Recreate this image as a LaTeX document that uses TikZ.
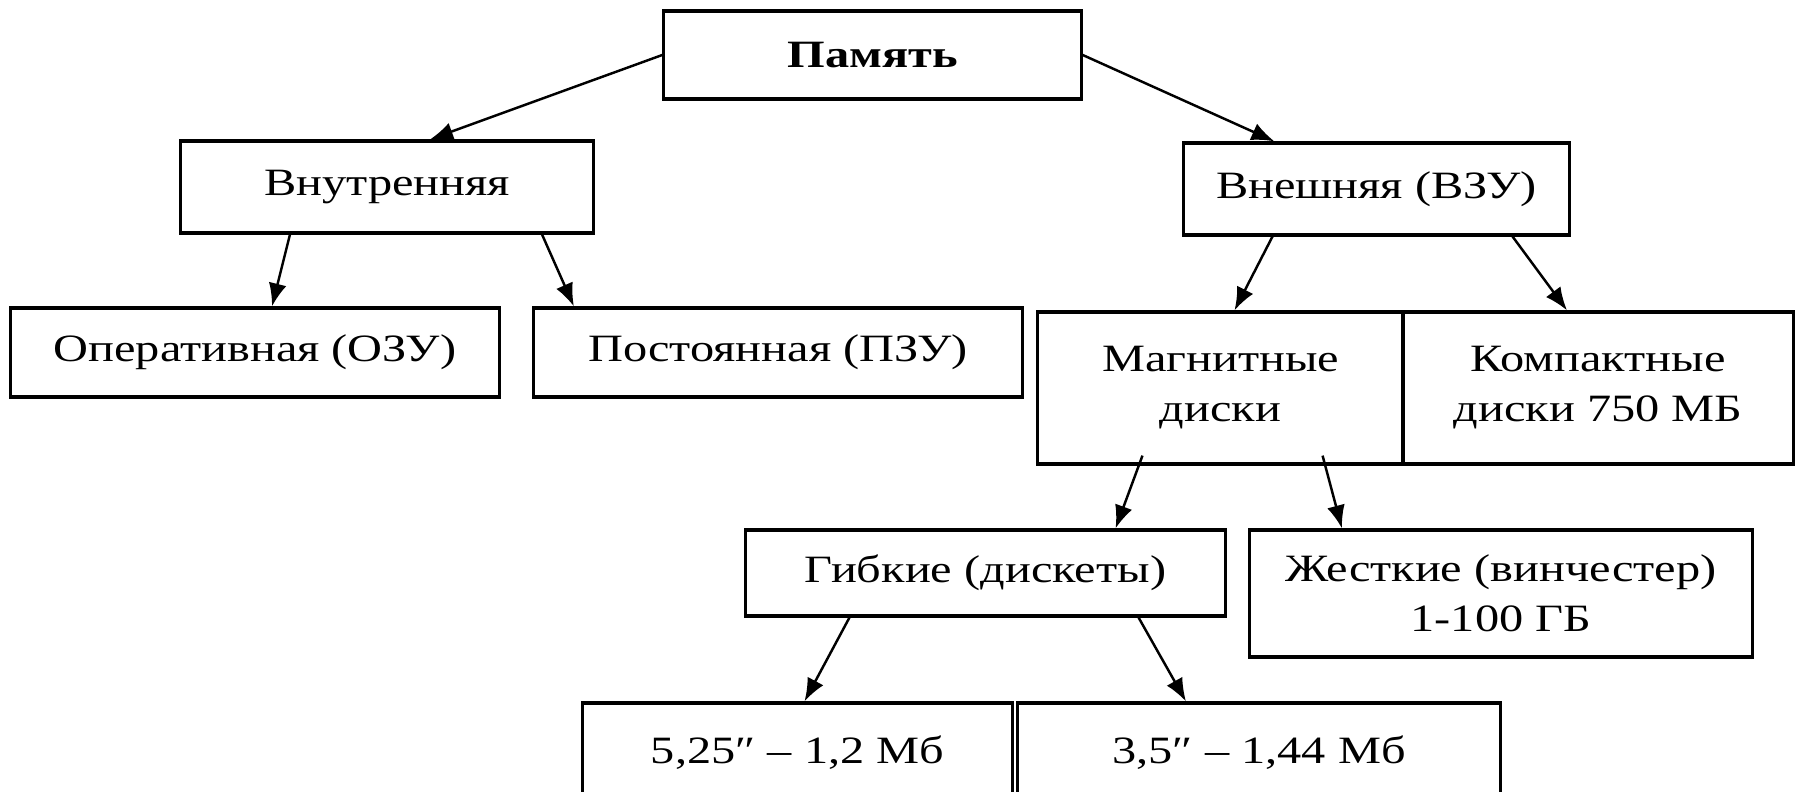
\documentclass[tikz,border=0pt]{standalone}
\usepackage{fontspec}
\setmainfont[FakeStretch=1.25]{Liberation Serif}
\usetikzlibrary{arrows.meta}

\begin{document}
\begin{tikzpicture}[x=0.01cm, y=-0.01cm, >={Latex[length=2.3mm, width=1.8mm]},
    block/.style={draw, line width=0.9pt, inner sep=0pt, align=center,
        font=\fontsize{11}{14.2}\selectfont},
    link/.style={->, line width=0.7pt}]
        \useasboundingbox (0, 0) rectangle (1800, 792);

        % nodes top, level 1
        \node[block, minimum width=4.17cm, minimum height=0.88cm] (mem) at (872.5, 55) {\textbf{Память}};
        \node[block, minimum width=4.12cm, minimum height=0.92cm] (inner) at (387, 187) {Внутренняя};
        \node[block, minimum width=3.85cm, minimum height=0.92cm] (outer) at (1376.5, 189) {Внешняя (ВЗУ)};

        % nodes level 2
        \node[block, minimum width=4.88cm, minimum height=0.89cm] (ram) at (255, 352.5) {Оперативная (ОЗУ)};
        \node[block, minimum width=4.88cm, minimum height=0.89cm] (rom) at (778, 352.5) {Постоянная (ПЗУ)};
        \node[block, minimum width=3.65cm, minimum height=1.52cm] (magn) at (1220.5, 388) {Магнитные\\диски};
        \node[block, minimum width=3.90cm, minimum height=1.52cm] (cd) at (1598, 388) {Компактные\\диски 750 МБ};

        % nodes level 3, 4
        \node[block, minimum width=4.79cm, minimum height=0.86cm] (flex) at (985.5, 573) {Гибкие (дискеты)};
        \node[block, minimum width=5.02cm, minimum height=1.27cm] (hard) at (1501, 593.5) {Жесткие (винчестер)\\1-100 ГБ};
        \node[block, minimum width=4.29cm, minimum height=1.00cm] (fd525) at (797.5, 753) {5,25″ – 1,2 Мб};
        \node[block, minimum width=4.82cm, minimum height=1.00cm] (fd35) at (1259, 753) {3,5″ – 1,44 Мб};

        % edges
        \draw[link] (mem.west) to ([xshift=0.43cm]inner.north);
        \draw[link] (mem.east) to ([xshift=-1.02cm]outer.north);
        \draw[link] ([xshift=-0.97cm]inner.south) to ([xshift=0.17cm]ram.north);
        \draw[link] ([xshift=1.55cm]inner.south) to ([xshift=-2.04cm]rom.north);
        \draw[link] ([xshift=-1.04cm]outer.south) to ([xshift=0.14cm]magn.north);
        \draw[link] ([xshift=1.36cm]outer.south) to ([xshift=-0.31cm]cd.north);
        \draw[link] ([xshift=-0.78cm, yshift=0.1cm]magn.south) to ([xshift=1.30cm]flex.north);
        \draw[link] ([xshift=1.02cm, yshift=0.1cm]magn.south) to ([xshift=-1.59cm]hard.north);
        \draw[link] ([xshift=-1.36cm]flex.south) to ([xshift=0.07cm]fd525.north);
        \draw[link] ([xshift=1.53cm]flex.south) to ([xshift=-0.73cm]fd35.north);
    \end{tikzpicture}
\end{document}
